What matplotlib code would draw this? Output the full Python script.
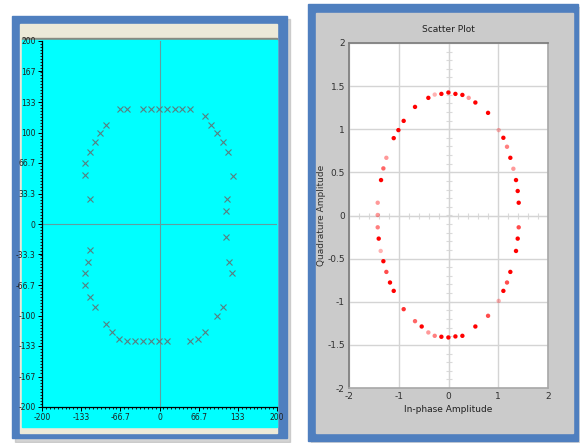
import matplotlib
matplotlib.use("Agg")
import matplotlib.pyplot as plt
from matplotlib.patches import Rectangle
from matplotlib.ticker import MultipleLocator, FixedLocator
import numpy as np

W, H = 580, 443

# left panel: constellation "X" marks (units -200..200)
x_marks = [-68, -55, -28.5, -15, -1, 12.5, 26, 39, 52.5,
           78, 87.7, 98.6, 108.2, 116.8, 124.3, 115.7, 114,
           -90.6, -100.9, -110, -119, -126.5, -126.5, -118.5,
           -118.5, -121.9, -126.5, -126.5, -119, -110.6, -90.6, -80.3, -68.4,
           -55.2, -42.2, -28.5, -14.9, -1.2, 12.5, 52.5,
           66.1, 78.1, 98.6, 108.2, 123.6, 119.1, 113.4]
y_marks = [126, 126, 126, 126, 126, 126, 126, 126, 126,
           117.7, 108.5, 99.1, 89.3, 78.7, 52.8, 27.3, 13.9,
           108.5, 99.1, 89.3, 78.7, 66.3, 53.6, 27.3,
           -28.4, -41.2, -53.9, -66.7, -79.8, -90.4, -109.6, -118.4, -125.7,
           -128, -128, -128, -128, -128, -128, -128,
           -125.7, -118.4, -100.2, -90.4, -53.9, -41.2, -14.6]
left_ticks = [-200, -133.3, -66.7, 0, 66.7, 133.3, 200]
left_xlabels = ["-200", "-133", "-66.7", "0", "66.7", "133", "200"]
left_yticks = [-200, -166.7, -133.3, -100, -66.7, -33.3, 0, 33.3, 66.7, 100, 133.3, 166.7, 200]
left_ylabels = ["-200", "-167", "-133", "-100", "-66.7", "-33.3", "0",
                "33.3", "66.7", "100", "133", "167", "200"]

# right panel: I/Q scatter points and their brightness
iq_i = [-1.423, -1.423, -1.356, -1.309, -1.249, -1.101, -1.007, -0.901, -0.673, -0.405,
        -0.277, -0.143, -0.002, 0.139, 0.279, 0.406, 0.540, 0.795, 1.009, 1.103,
        1.176, 1.243, 1.304, 1.357, 1.391, 1.411,
        -1.423, -1.403, -1.363, -1.309, -1.249, -1.176, -1.101, -0.901, -0.673, -0.539,
        -0.405, -0.277, -0.143, -0.002, 0.139, 0.279, 0.540, 0.795, 1.009, 1.103,
        1.176, 1.243, 1.357, 1.391, 1.411]
iq_q = [0.148, 0.006, 0.411, 0.546, 0.669, 0.897, 0.990, 1.097, 1.259, 1.364,
        1.402, 1.410, 1.426, 1.410, 1.398, 1.364, 1.310, 1.190, 0.990, 0.901,
        0.797, 0.669, 0.542, 0.411, 0.284, 0.148,
        -0.137, -0.268, -0.411, -0.530, -0.654, -0.777, -0.874, -1.086, -1.225, -1.287,
        -1.356, -1.395, -1.406, -1.414, -1.402, -1.395, -1.287, -1.163, -0.990, -0.874,
        -0.777, -0.654, -0.411, -0.268, -0.137]
iq_alpha = [0.4, 0.4, 1, 0.6, 0.4, 1, 1, 1, 1, 1,
            0.3, 1, 1, 1, 1, 0.4, 1, 1, 0.3, 1,
            0.5, 1, 0.4, 1, 1, 1,
            0.5, 1, 0.3, 1, 0.7, 1, 1, 0.8, 0.6, 1,
            0.4, 0.5, 1, 1, 1, 1, 1, 0.7, 0.3, 1,
            0.7, 1, 1, 1, 0.7]

narrow = ["Liberation Sans Narrow", "DejaVu Sans"]
blue = "#4f7fbf"

fig = plt.figure(figsize=(W / 100, H / 100), dpi=100)
fig.patch.set_facecolor("white")

# frames drawn in pixel coords
bg = fig.add_axes([0, 0, 1, 1])
bg.set_xlim(0, W)
bg.set_ylim(H, 0)
bg.axis("off")
bg.add_patch(Rectangle((15, 19), 275, 423, color="#b8b8b8", alpha=0.6))
bg.add_patch(Rectangle((12, 16), 275, 422, color=blue))
bg.add_patch(Rectangle((20, 24), 257, 409, color="#ece9d8"))
bg.add_patch(Rectangle((22, 38), 255, 2, color="#8a8a80"))
bg.add_patch(Rectangle((22, 40), 255, 387, color="#00ffff"))
bg.add_patch(Rectangle((311, 7), 270, 436, color="#b8b8b8", alpha=0.5))
bg.add_patch(Rectangle((308, 4), 270, 437, color=blue))
bg.add_patch(Rectangle((316, 13), 257, 420, color="#cbcbcb"))

# left chart
ax1 = fig.add_axes([42 / W, (H - 407) / H, 235 / W, 366 / H])
ax1.set_facecolor("#00ffff")
ax1.set_xlim(-200, 200)
ax1.set_ylim(-200, 200)
ax1.axhline(0, color="#5f9ea0", lw=0.8, zorder=1)
ax1.axvline(0, color="#5f9ea0", lw=0.8, zorder=1)
ax1.plot(x_marks, y_marks, ls="none", marker="x", ms=4.5, mew=0.8, color="#587f80", zorder=3)
for s in ["top", "right"]:
    ax1.spines[s].set_visible(False)
for s in ["left", "bottom"]:
    ax1.spines[s].set_color("black")
    ax1.spines[s].set_linewidth(0.9)
ax1.xaxis.set_major_locator(FixedLocator(left_ticks))
ax1.set_xticklabels(left_xlabels)
ax1.yaxis.set_major_locator(FixedLocator(left_yticks))
ax1.set_yticklabels(left_ylabels)
ax1.xaxis.set_minor_locator(MultipleLocator(400 / 60))
ax1.yaxis.set_minor_locator(MultipleLocator(400 / 120))
ax1.tick_params(which="major", length=3, width=0.7, pad=1.5, labelsize=5.5)
ax1.tick_params(which="minor", length=1.5, width=0.6)
for lab in ax1.get_xticklabels() + ax1.get_yticklabels():
    lab.set_family(narrow)
    lab.set_color("#202020")

# right chart
ax2 = fig.add_axes([349 / W, (H - 388) / H, 199 / W, 345 / H])
ax2.set_facecolor("white")
ax2.set_xlim(-2, 2)
ax2.set_ylim(-2, 2)
ax2.xaxis.set_major_locator(MultipleLocator(1))
ax2.yaxis.set_major_locator(MultipleLocator(0.5))
ax2.grid(True, color="#d4d4d4", lw=1.0, zorder=0)
ax2.axhline(0, color="#e2e2e2", lw=0.8, zorder=1)
ax2.axvline(0, color="#e2e2e2", lw=0.8, zorder=1)
ax2.plot(np.zeros(39), np.arange(-1.9, 2.0, 0.1), ls="none", marker="_", ms=4,
         mew=0.8, color="#dadada", zorder=1)
ax2.plot(np.arange(-1.8, 2.0, 0.2), np.zeros(19), ls="none", marker="|", ms=5,
         mew=0.8, color="#dadada", zorder=1)
rgba = [(1, 0, 0, a) for a in iq_alpha]
ax2.scatter(iq_i, iq_q, s=10, c=rgba, edgecolors="none", zorder=3)
ax2.spines["top"].set_color("#7a7a7a")
ax2.spines["left"].set_color("#7a7a7a")
ax2.spines["right"].set_color("#a8a8a8")
ax2.spines["bottom"].set_color("#a8a8a8")
for s in ax2.spines.values():
    s.set_linewidth(1.2)
ax2.tick_params(length=0, pad=3, labelsize=6.5)
ax2.set_xticks([-2, -1, 0, 1, 2])
ax2.set_xticklabels(["-2", "-1", "0", "1", "2"])
ax2.set_yticks([-2, -1.5, -1, -0.5, 0, 0.5, 1, 1.5, 2])
ax2.set_yticklabels(["-2", "-1.5", "-1", "-0.5", "0", "0.5", "1", "1.5", "2"])
for lab in ax2.get_xticklabels() + ax2.get_yticklabels():
    lab.set_family(narrow)
    lab.set_color("#303030")
ax2.set_title("Scatter Plot", fontsize=6.5, family=narrow, color="#202020", pad=8)
ax2.set_xlabel("In-phase Amplitude", fontsize=6.5, family=narrow, color="#202020", labelpad=3)
ax2.set_ylabel("Quadrature Amplitude", fontsize=6.5, family=["DejaVu Sans"], color="#303030", labelpad=1)

fig.savefig("out.png", dpi=100)
